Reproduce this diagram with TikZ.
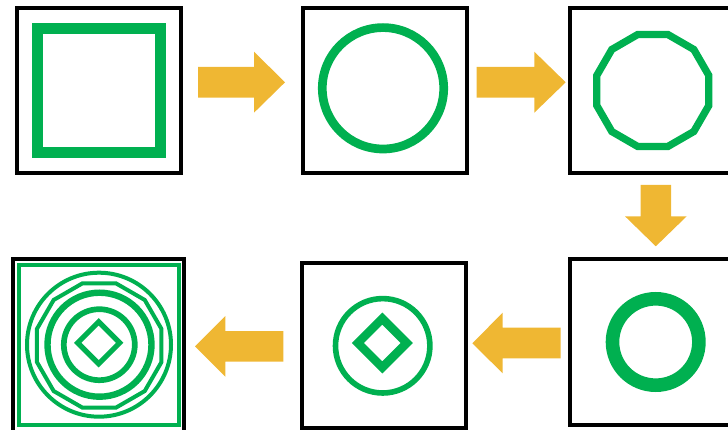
\documentclass[tikz,border=0pt]{standalone}
\definecolor{fgreen}{RGB}{0,176,80}
\definecolor{forange}{RGB}{239,183,51}
\tikzset{
  panel/.style={draw=black, line width=4pt, fill=white, inner sep=0pt, outer sep=0pt},
  gline/.style={draw=fgreen, miter limit=10},
  blockarrow/.style={fill=forange, draw=none}
}
\begin{document}
\begin{tikzpicture}[x=1pt,y=-1pt]
\useasboundingbox (0,0) rectangle (728,430);
\clip (0,0) rectangle (728,430);
% panels
\node[panel, minimum width=163.7pt, minimum height=165pt] (b1) at (98.85,90.5) {};
\node[panel, minimum width=164pt, minimum height=165pt] (b2) at (385,90.5) {};
\node[panel, minimum width=170pt, minimum height=165pt] (b3) at (655,90.5) {};
\node[panel, minimum width=170pt, minimum height=166pt] (b4) at (655,342) {};
\node[panel, minimum width=164pt, minimum height=165.3pt] (b5) at (384,345.3) {};
\node[panel, minimum width=170.5pt, minimum height=172.5pt] (b6) at (98.25,345.75) {};
% panel 1: square
\draw[gline, line width=11pt] (37.5,29) rectangle (160.5,152.5);
% panel 2: circle
\draw[gline, line width=8.7pt] (383,88.3) circle[radius=60.7];
% panel 3: dodecagon
\draw[gline, line width=7.3pt, shift={(652.8,90.5)}] (15:58) \foreach \a in {45,75,...,345} { -- (\a:58)} -- cycle;
% panel 4: thick circle
\draw[gline, line width=13.6pt] (655.7,342) circle[radius=43.2];
% panel 5: circle + diamond
\draw[gline, line width=5.6pt] (382.7,345.8) circle[radius=47.2];
\draw[gline, line width=8.6pt, shift={(382.3,343)}] (-24.4,0) -- (0,-24.4) -- (24.4,0) -- (0,24.4) -- cycle;
% panel 6: composite
\draw[gline, line width=4pt] (19,265) rectangle (179,425);
\draw[gline, line width=4pt] (99,344.7) circle[radius=72];
\draw[gline, line width=4pt, shift={(99.2,345.5)}] (15:64.4) \foreach \a in {45,75,...,345} { -- (\a:64.4)} -- cycle;
\draw[gline, line width=6.4pt] (99.5,344.7) circle[radius=52];
\draw[gline, line width=5.7pt] (99.3,344.7) circle[radius=35.5];
\draw[gline, line width=5.2pt, shift={(98.7,342.8)}] (-21,0) -- (0,-21) -- (21,0) -- (0,21) -- cycle;
% block arrows
\path[blockarrow] (198,67) -- (254,67) -- (254,51.7) -- (285,82.3) -- (254,112.7) -- (254,97.7) -- (198,97.7) -- cycle;
\path[blockarrow] (476.7,67) -- (534.3,67) -- (534.3,51.7) -- (565.7,82.3) -- (534.3,112.7) -- (534.3,97.7) -- (476.7,97.7) -- cycle;
\path[blockarrow] (640.7,185) -- (671,185) -- (671,216.3) -- (686.7,216.3) -- (655.8,246.3) -- (625,216.3) -- (640.7,216.3) -- cycle;
\path[blockarrow] (560.7,327.7) -- (502.7,327.7) -- (502.7,312.7) -- (472.3,343.3) -- (502.7,373.3) -- (502.7,358.3) -- (560.7,358.3) -- cycle;
\path[blockarrow] (283.3,331) -- (225.3,331) -- (225.3,316) -- (195,346.3) -- (225.3,376.7) -- (225.3,361.7) -- (283.3,361.7) -- cycle;
\end{tikzpicture}
\end{document}
